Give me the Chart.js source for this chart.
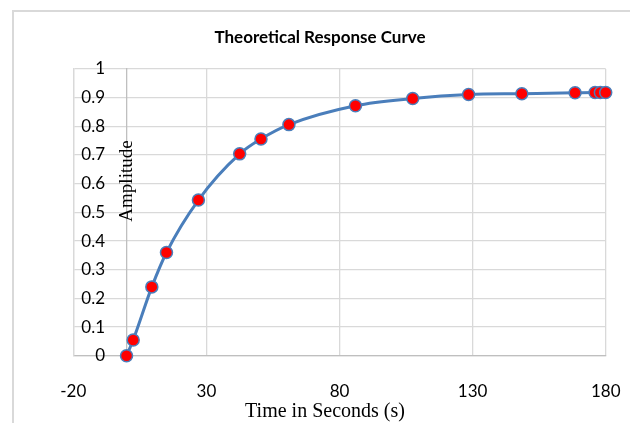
<!DOCTYPE html>
<html><head><meta charset="utf-8">
<script src="https://cdn.jsdelivr.net/npm/chart.js@4"></script>
<style>
html,body{margin:0;padding:0;background:#fff;overflow:hidden}
#wrap{position:relative;width:630px;height:423px}
#frame{position:absolute;left:12px;top:10px;width:700px;height:500px;border-left:2px solid #d9d9d9;border-top:2px solid #d9d9d9}
#c{position:absolute;left:0;top:0}
</style></head><body>
<div id="wrap"><div id="frame"></div><canvas id="c" width="630" height="423"></canvas></div>
<script>
const timeSeconds = [0, 2.5, 9.5, 15, 27, 42.5, 50.5, 61, 86, 107.5, 128.5, 148.5, 168.5, 176, 178, 180];
const amplitude   = [0, 0.055, 0.24, 0.36, 0.543, 0.704, 0.756, 0.806, 0.872, 0.897, 0.911, 0.914, 0.917, 0.918, 0.918, 0.918];
const xTicks = [-20, 30, 80, 130, 180];
const yTicks = [0, 0.1, 0.2, 0.3, 0.4, 0.5, 0.6, 0.7, 0.8, 0.9, 1];
const chartTitle = 'Theoretical Response Curve';
const xTitle = 'Time in Seconds (s)';
const yTitle = 'Amplitude';

const points = timeSeconds.map((t, i) => ({x: t, y: amplitude[i]}));

const axisTitles = {
  id: 'axisTitles',
  afterDraw(chart) {
    const ctx = chart.ctx;
    const xs = chart.scales.x;
    ctx.save();
    ctx.fillStyle = '#000';
    ctx.textAlign = 'center';
    ctx.textBaseline = 'middle';
    ctx.font = '20px "Liberation Serif", "Times New Roman", serif';
    ctx.fillText(xTitle, 325, 412);
    ctx.font = '19px "Liberation Serif", "Times New Roman", serif';
    ctx.translate(xs.getPixelForValue(0), 181);
    ctx.rotate(-Math.PI / 2);
    ctx.fillText(yTitle, 0, 0);
    ctx.restore();
  }
};

new Chart(document.getElementById('c'), {
  type: 'scatter',
  data: {
    datasets: [{
      data: points,
      showLine: true,
      borderColor: '#4a7ebb',
      borderWidth: 3,
      cubicInterpolationMode: 'monotone',
      pointRadius: 6,
      pointHoverRadius: 6,
      pointBackgroundColor: '#ff0000',
      pointBorderColor: '#4a7ebb',
      pointBorderWidth: 1.5,
      clip: false
    }]
  },
  options: {
    responsive: false,
    animation: false,
    layout: {padding: {left: 10, right: 0, top: 11, bottom: 0}},
    plugins: {
      legend: {display: false},
      tooltip: {enabled: false},
      title: {
        display: true,
        text: chartTitle,
        color: '#000',
        font: {family: 'Lato', size: 17, weight: 'bold'},
        padding: {top: 16, bottom: 21.6}
      }
    },
    scales: {
      x: {
        type: 'linear',
        min: -20, max: 180,
        afterBuildTicks: s => { s.ticks = xTicks.map(v => ({value: v})); },
        afterFit: s => { s.height = 67.3; },
        grid: {color: '#d9d9d9', lineWidth: 1.3, drawTicks: true, tickLength: 17, tickColor: 'rgba(0,0,0,0)'},
        border: {display: true, color: '#bfbfbf', width: 1.3},
        ticks: {color: '#000', padding: 9, font: {family: 'Lato', size: 17}, maxRotation: 0, callback: v => String(v)}
      },
      y: {
        type: 'linear',
        position: 'left',
        min: 0, max: 1,
        afterBuildTicks: s => { s.ticks = yTicks.map(v => ({value: v})); },
        afterFit: s => { s.width = 63.3; },
        grid: {color: '#d9d9d9', lineWidth: 1.3, drawTicks: false},
        border: {display: true, color: '#d9d9d9', width: 1.3},
        ticks: {mirror: true, crossAlign: 'far', padding: 8, color: '#000', font: {family: 'Lato', size: 17}, callback: v => String(+(+v).toFixed(1))}
      },
      yR: {
        type: 'linear',
        axis: 'y',
        position: 'right',
        min: 0, max: 1,
        afterFit: s => { s.width = 24.3; },
        grid: {drawOnChartArea: false, drawTicks: false},
        border: {display: false},
        ticks: {display: false}
      },
      y2: {
        type: 'linear',
        axis: 'y',
        position: {x: 0},
        min: 0, max: 1,
        grid: {drawOnChartArea: false, drawTicks: false},
        border: {display: true, color: '#bfbfbf', width: 1.3},
        ticks: {display: false}
      }
    }
  },
  plugins: [axisTitles]
});
</script>
</body></html>
